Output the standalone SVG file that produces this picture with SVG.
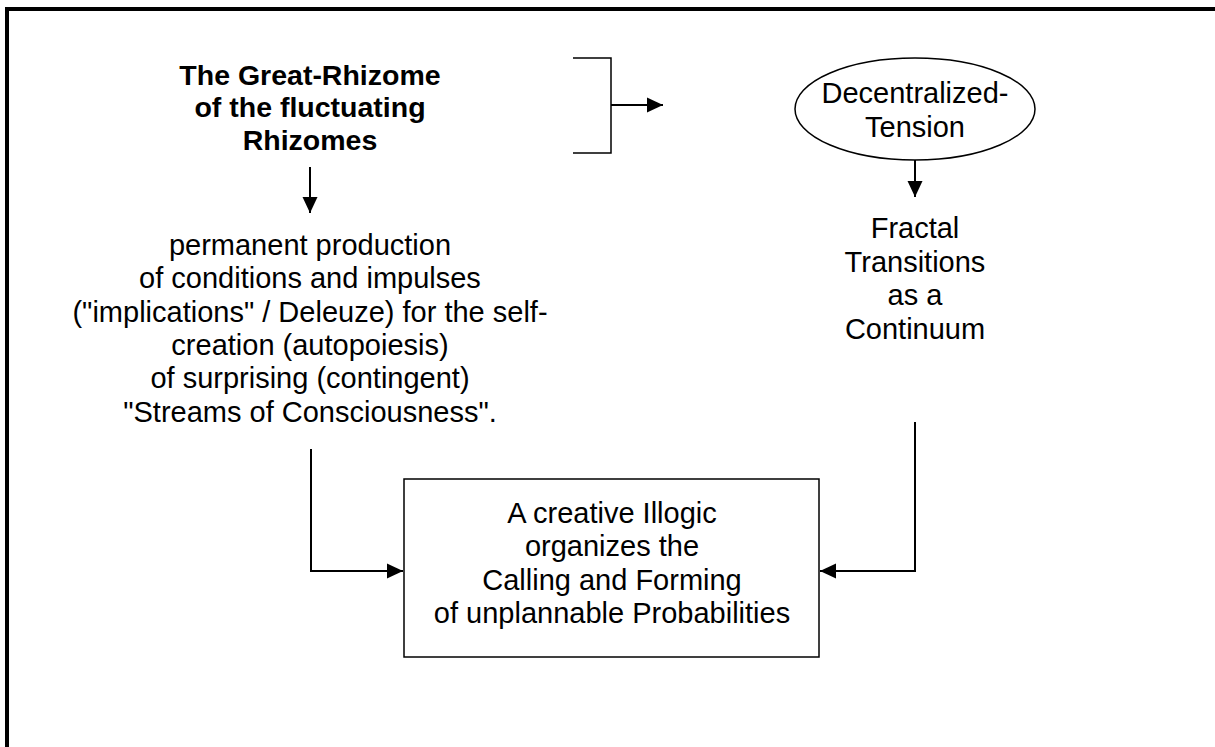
<svg xmlns="http://www.w3.org/2000/svg" width="1215" height="747" viewBox="0 0 1215 747">
<style>
text{font-family:"Liberation Sans",Arial,sans-serif;font-size:29px;fill:#000;text-anchor:middle}
.b{font-weight:bold;font-size:28.5px}
.c{fill:none;stroke:#000;stroke-width:2}
.s{fill:none;stroke:#000;stroke-width:1.5}
</style>
<defs>
<marker id="ah" markerUnits="userSpaceOnUse" markerWidth="16" markerHeight="16" viewBox="0 0 16 16" refX="16" refY="8" orient="auto">
<path d="M0,0.5 L16,8 L0,15.5 Z" fill="#000"/>
</marker>
</defs>
<rect width="1215" height="747" fill="#fff"/>
<g id="frame">
<line x1="5" y1="9" x2="1215" y2="9" stroke="#000" stroke-width="4"/>
<line x1="7" y1="7" x2="7" y2="747" stroke="#000" stroke-width="4"/>
</g>
<g id="title">
<text class="b" x="310" y="85">The Great-Rhizome</text>
<text class="b" x="310" y="117">of the fluctuating</text>
<text class="b" x="310" y="150">Rhizomes</text>
</g>
<g id="bracket">
<path class="s" d="M573,58 H611 V153 H573"/>
</g>
<g id="tension">
<ellipse cx="915" cy="109" rx="120" ry="51" fill="#fff" stroke="#000" stroke-width="1.5"/>
<text x="915" y="103">Decentralized-</text>
<text x="915" y="137">Tension</text>
</g>
<g id="production">
<text x="310" y="255">permanent production</text>
<text x="310" y="288">of conditions and impulses</text>
<text x="310" y="322">("implications" / Deleuze) for the self-</text>
<text x="310" y="355">creation (autopoiesis)</text>
<text x="310" y="388">of surprising (contingent)</text>
<text x="310" y="422">"Streams of Consciousness".</text>
</g>
<g id="fractal">
<text x="915" y="238">Fractal</text>
<text x="915" y="272">Transitions</text>
<text x="915" y="305">as a</text>
<text x="915" y="339">Continuum</text>
</g>
<g id="illogic">
<rect x="404" y="479" width="415" height="178" fill="#fff" stroke="#000" stroke-width="1.5"/>
<text x="612" y="523">A creative Illogic</text>
<text x="612" y="556">organizes the</text>
<text x="612" y="590">Calling and Forming</text>
<text x="612" y="623">of unplannable Probabilities</text>
</g>
<g id="connectors">
<line class="c" x1="310" y1="167" x2="310" y2="213" marker-end="url(#ah)"/>
<line class="c" x1="611" y1="105" x2="663" y2="105" marker-end="url(#ah)"/>
<line class="c" x1="915" y1="160" x2="915" y2="197" marker-end="url(#ah)"/>
<polyline class="c" points="311,449 311,571 403,571" marker-end="url(#ah)"/>
<polyline class="c" points="915,422 915,571 820,571" marker-end="url(#ah)"/>
</g>
</svg>
